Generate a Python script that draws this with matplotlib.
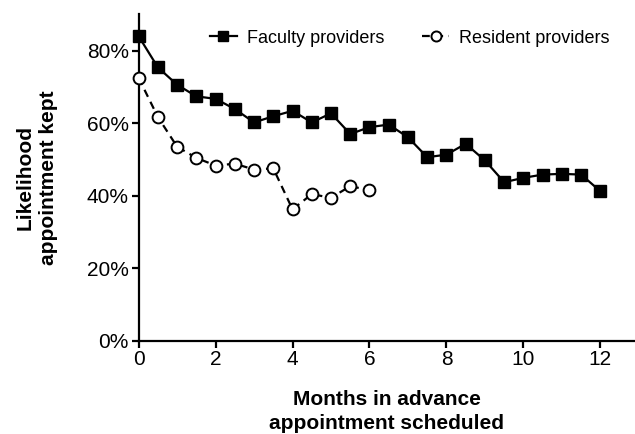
import matplotlib
matplotlib.use("Agg")
import matplotlib.pyplot as plt
from matplotlib.ticker import FuncFormatter

plt.rcParams["font.family"] = ["Liberation Sans", "DejaVu Sans"]

# months in advance the appointment was scheduled
faculty_months = [0, 0.5, 1, 1.5, 2, 2.5, 3, 3.5, 4, 4.5, 5, 5.5, 6, 6.5,
                  7, 7.5, 8, 8.5, 9, 9.5, 10, 10.5, 11, 11.5, 12]
faculty_kept = [84.0, 75.4, 70.6, 67.4, 66.7, 63.9, 60.2, 61.9, 63.4, 60.2,
                62.7, 57.0, 58.9, 59.6, 56.1, 50.6, 51.3, 54.3, 49.7, 43.7,
                44.9, 45.8, 46.0, 45.8, 41.2]

resident_months = [0, 0.5, 1, 1.5, 2, 2.5, 3, 3.5, 4, 4.5, 5, 5.5, 6]
resident_kept = [72.5, 61.7, 53.5, 50.4, 48.3, 48.8, 47.2, 47.5, 36.2, 40.4,
                 39.4, 42.6, 41.5]

x_ticks = [0, 2, 4, 6, 8, 10, 12]
y_ticks = [0, 20, 40, 60, 80]

fig = plt.figure(figsize=(6.35, 4.34), dpi=100)
ax = fig.add_axes([0.2183, 0.2154, 0.7817, 0.7513])

ax.plot(faculty_months, faculty_kept, color="black", lw=1.6, ls="-",
        marker="s", ms=9, mfc="black", mec="black",
        label="Faculty providers", clip_on=False, zorder=3)
ax.plot(resident_months, resident_kept, color="black", lw=1.6, ls=(0, (3.5, 2.5)),
        marker="o", ms=8.5, mfc="white", mec="black", mew=1.4,
        label="Resident providers", clip_on=False, zorder=3)

ax.set_xlim(0, 12.9)
ax.set_ylim(0, 90)
ax.set_xticks(x_ticks)
ax.set_yticks(y_ticks)
ax.yaxis.set_major_formatter(FuncFormatter(lambda v, p: f"{v:.0f}%"))

for side in ["top", "right"]:
    ax.spines[side].set_visible(False)
for side in ["left", "bottom"]:
    ax.spines[side].set_linewidth(1.6)
ax.tick_params(axis="both", direction="out", length=5, width=1.6,
               labelsize=15, pad=2)

ax.set_xlabel("Months in advance\nappointment scheduled", fontsize=15,
              fontweight="bold", labelpad=15, linespacing=1.3)
ax.set_ylabel("Likelihood\nappointment kept", fontsize=15,
              fontweight="bold", labelpad=21, linespacing=1.3)

ax.legend(loc="center", bbox_to_anchor=(0.645, 0.912), bbox_transform=fig.transFigure,
          ncol=2, frameon=False, fontsize=13, handlelength=1.5,
          handletextpad=0.55, columnspacing=2.1, markerscale=0.85)

fig.savefig("out.png", dpi=100)
